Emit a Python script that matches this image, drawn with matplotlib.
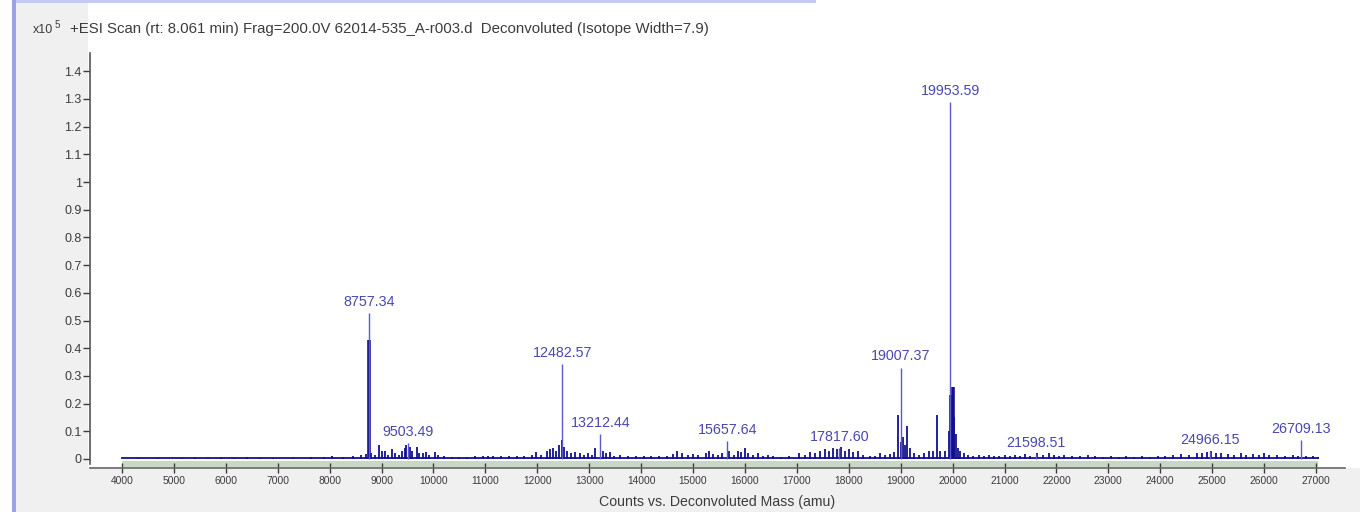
import matplotlib
matplotlib.use("Agg")
import matplotlib.pyplot as plt
from matplotlib.patches import Rectangle

plt.rcParams["font.family"] = ["Liberation Sans", "DejaVu Sans"]

# Deconvoluted spectrum, intensities in units of 1e5 counts
TITLE = "+ESI Scan (rt: 8.061 min) Frag=200.0V 62014-535_A-r003.d  Deconvoluted (Isotope Width=7.9)"
X_LABEL = "Counts vs. Deconvoluted Mass (amu)"

scan_range = [4000, 27040]
baseline_level = 0.004

# annotated peaks (centroid mass, apex height)
label_masses = [8757.34, 9503.49, 12482.57, 13212.44, 15657.64, 17817.60,
                19007.37, 19953.59, 21598.51, 24966.15, 26709.13]
label_heights = [0.527, 0.056, 0.343, 0.090, 0.066, 0.040,
                 0.330, 1.289, 0.018, 0.030, 0.068]

# broad profile bodies under the two main peaks
body_masses = [8750, 19960, 19985, 20005]
body_heights = [0.43, 0.23, 0.20, 0.26]

# remaining sticks
stick_masses = [
    4300, 4700, 5150, 5400, 5650, 5900, 6150, 6400, 6650, 6900, 7300, 7650,
    7900, 8050, 8250, 8450, 8600, 8700,
    8800, 8870, 8950, 9000, 9060, 9120, 9200, 9260, 9330, 9400, 9450, 9480,
    9540, 9590, 9680, 9720, 9800, 9850, 9920, 10030, 10080, 10200,
    10350, 10500, 10650, 10800, 10950, 11050, 11150, 11300, 11450, 11600,
    11750, 11900, 11980,
    12080, 12180, 12250, 12300, 12360, 12420, 12470, 12520, 12580, 12640,
    12720, 12820, 12900, 12980, 13050, 13120, 13260, 13330, 13400, 13480,
    13600, 13750, 13900, 14050, 14200, 14350, 14500, 14620, 14700, 14780,
    14900, 15000, 15100, 15250, 15300, 15380, 15480, 15560, 15700, 15780,
    15860, 15920, 16000, 16060, 16150, 16250, 16350, 16450, 16550, 16700,
    16850, 17050, 17150, 17250, 17350, 17450, 17550, 17620, 17700, 17780,
    17850, 17920, 18000, 18080, 18180, 18280, 18400, 18500, 18600, 18700,
    18800, 18870, 18950, 19000, 19040, 19080, 19120, 19170, 19250, 19350,
    19450, 19550, 19620, 19700, 19760, 19850, 19930, 20030, 20060, 20100,
    20150, 20220, 20300, 20400, 20500, 20600, 20700, 20800, 20900, 21000,
    21100, 21200, 21300, 21400, 21500, 21620, 21750, 21850, 21950, 22050,
    22150, 22300, 22450, 22600, 22750, 22900, 23050, 23200, 23350, 23500,
    23650, 23800, 23950, 24100, 24250, 24400, 24550, 24700, 24800, 24900,
    24980, 25080, 25180, 25300, 25420, 25550, 25650, 25780, 25900, 26000,
    26100, 26250, 26400, 26550, 26650, 26800, 26950, 27030,
]
stick_heights = [
    0.004, 0.004, 0.005, 0.006, 0.005, 0.006, 0.005, 0.006, 0.005, 0.004, 0.005, 0.007,
    0.006, 0.010, 0.008, 0.012, 0.015, 0.018,
    0.020, 0.015, 0.050, 0.030, 0.030, 0.015, 0.036, 0.020, 0.015, 0.030, 0.040, 0.050,
    0.045, 0.030, 0.045, 0.020, 0.020, 0.025, 0.015, 0.025, 0.015, 0.010,
    0.008, 0.006, 0.008, 0.010, 0.012, 0.010, 0.012, 0.010, 0.012, 0.010,
    0.012, 0.015, 0.025,
    0.015, 0.030, 0.035, 0.040, 0.030, 0.050, 0.070, 0.045, 0.030, 0.020,
    0.025, 0.020, 0.015, 0.020, 0.015, 0.040, 0.030, 0.020, 0.025, 0.012,
    0.015, 0.010, 0.012, 0.010, 0.012, 0.010, 0.012, 0.018, 0.030, 0.020,
    0.015, 0.018, 0.015, 0.020, 0.028, 0.018, 0.015, 0.020, 0.030, 0.015,
    0.030, 0.025, 0.040, 0.020, 0.015, 0.020, 0.012, 0.015, 0.010, 0.008,
    0.010, 0.020, 0.015, 0.025, 0.020, 0.030, 0.035, 0.030, 0.040, 0.035,
    0.045, 0.030, 0.035, 0.025, 0.030, 0.015, 0.012, 0.010, 0.020, 0.015,
    0.018, 0.025, 0.160, 0.060, 0.080, 0.050, 0.120, 0.040, 0.020, 0.015,
    0.020, 0.030, 0.030, 0.160, 0.030, 0.030, 0.100, 0.150, 0.090, 0.040,
    0.030, 0.020, 0.015, 0.012, 0.015, 0.012, 0.015, 0.010, 0.012, 0.015,
    0.010, 0.015, 0.012, 0.018, 0.012, 0.020, 0.015, 0.020, 0.015, 0.012,
    0.015, 0.010, 0.012, 0.015, 0.010, 0.008, 0.010, 0.008, 0.010, 0.008,
    0.010, 0.008, 0.012, 0.012, 0.015, 0.018, 0.015, 0.020, 0.022, 0.025,
    0.030, 0.020, 0.020, 0.018, 0.015, 0.020, 0.015, 0.018, 0.015, 0.020,
    0.015, 0.015, 0.012, 0.015, 0.012, 0.010, 0.012, 0.008,
]

x_ticks = list(range(4000, 27001, 1000))
y_ticks = [round(0.1 * i, 1) for i in range(15)]

TEXT = "#3c3c3c"
STICK = "#10108c"
LABEL_LINE = "#5a5ac8"
LABEL_TEXT = "#4848b0"

fig = plt.figure(figsize=(13.6, 5.12), dpi=100, facecolor="white")
W, H = 1360.0, 512.0

# grey panel strips and window border, kept behind the axes
fig.patches.append(Rectangle((16 / W, 0), 72 / W, 1, transform=fig.transFigure,
                             facecolor="#f0f0f0", edgecolor="none", zorder=-2))
fig.patches.append(Rectangle((88 / W, 0), 1 - 88 / W, 44 / H, transform=fig.transFigure,
                             facecolor="#f0f0f0", edgecolor="none", zorder=-2))
fig.patches.append(Rectangle((12 / W, 0), 4 / W, 1, transform=fig.transFigure,
                             facecolor="#9aa4e4", edgecolor="none", zorder=-1))
fig.patches.append(Rectangle((16 / W, 1 - 3 / H), 800 / W, 3 / H, transform=fig.transFigure,
                             facecolor="#c4cbee", edgecolor="none", zorder=-1))

ax = fig.add_axes([90 / W, 44 / H, 1255 / W, (467 - 52) / H])
ax.set_facecolor("white")
ax.set_xlim(3384, 27559)
ax.set_ylim(-0.0325, 1.466)

# scan range band under the trace
ax.fill_between(scan_range, -0.028, -0.006, color="#c9d8c6", linewidth=0, zorder=1)
ax.plot(scan_range, [baseline_level, baseline_level], color="#2020a0", lw=1.4, zorder=2)

ax.vlines(stick_masses, 0, stick_heights, color=STICK, lw=1.3, zorder=3)
ax.vlines(body_masses, 0, body_heights, color=STICK, lw=2.6, zorder=3)
ax.vlines(label_masses, 0, label_heights, color=LABEL_LINE, lw=1.0, zorder=4)

for m, h in zip(label_masses, label_heights):
    ax.annotate(f"{m:.2f}", (m, h), xytext=(0, 3), textcoords="offset points",
                ha="center", va="bottom", fontsize=10.3, color=LABEL_TEXT, zorder=5)

ax.set_xticks(x_ticks)
ax.set_xticklabels([str(t) for t in x_ticks])
ax.set_yticks(y_ticks)
ax.set_yticklabels([f"{t:g}" for t in y_ticks])
ax.tick_params(axis="x", direction="inout", length=7, width=1, colors=TEXT,
               labelsize=7.4, pad=2.5)
ax.tick_params(axis="y", direction="out", length=5, width=1, colors=TEXT,
               labelsize=9, pad=1)

for side in ("top", "right"):
    ax.spines[side].set_visible(False)
ax.spines["left"].set_bounds(-0.018, 1.466)
ax.spines["left"].set_color("#555555")
ax.spines["bottom"].set_color("#666666")
ax.spines["left"].set_linewidth(1.2)
ax.spines["bottom"].set_linewidth(1.2)

ax.set_xlabel(X_LABEL, fontsize=10.2, color=TEXT, labelpad=6)

fig.text(33 / W, 1 - 33 / H, "x10", fontsize=9, color=TEXT, va="baseline")
fig.text(55 / W, 1 - 28 / H, "5", fontsize=7, color=TEXT, va="baseline")
fig.text(70 / W, 1 - 33 / H, TITLE, fontsize=10.8, color=TEXT, va="baseline")

fig.savefig("out.png", dpi=100, facecolor=fig.get_facecolor())
